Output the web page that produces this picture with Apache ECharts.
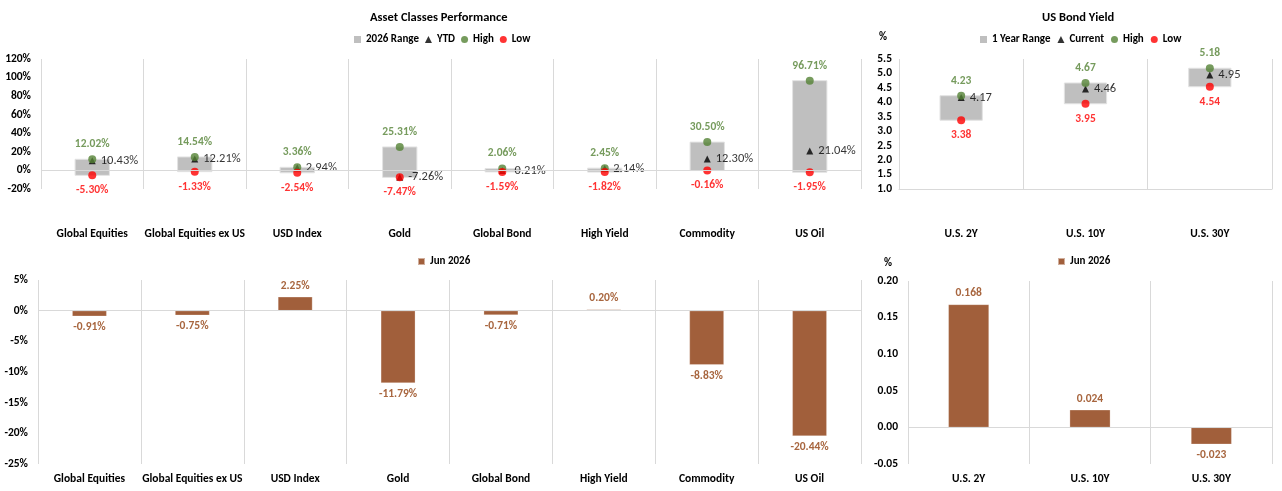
<!DOCTYPE html>
<html><head><meta charset="utf-8">
<script src="https://cdn.jsdelivr.net/npm/echarts@6/dist/echarts.min.js"></script>
<style>html,body{margin:0;padding:0;background:#fff}#c{width:1282px;height:491px}</style>
</head><body><div id="c"></div>
<script>
// ---- data ----
const assetCategories = ['Global Equities','Global Equities ex US','USD Index','Gold','Global Bond','High Yield','Commodity','US Oil'];
const assetHigh = [12.02, 14.54, 3.36, 25.31, 2.06, 2.45, 30.50, 96.71];
const assetLow = [-5.30, -1.33, -2.54, -7.47, -1.59, -1.82, -0.16, -1.95];
const assetYTD = [10.43, 12.21, 2.94, -7.26, -0.21, 2.14, 12.30, 21.04];
const assetMonth = [-0.91, -0.75, 2.25, -11.79, -0.71, 0.20, -8.83, -20.44];
const bondCategories = ['U.S. 2Y','U.S. 10Y','U.S. 30Y'];
const bondHigh = [4.23, 4.67, 5.18];
const bondLow = [3.38, 3.95, 4.54];
const bondCurrent = [4.17, 4.46, 4.95];
const bondMonth = [0.168, 0.024, -0.023];
const monthLabel = 'Jun 2026';

// ---- style ----
const FONT = "Carlito, Lato, 'Liberation Sans', sans-serif";
const GREEN = '#548235', RED = '#FF0000', GRAY = '#BFBFBF', BROWN = '#A15F3B', LINE = '#D9D9D9';

function rangeRenderer(frac) {
  return function (params, api) {
    const x = api.value(0);
    const lo = api.coord([x, api.value(1)]);
    const hi = api.coord([x, api.value(2)]);
    const w = api.size([1, 0])[0] * frac;
    return {
      type: 'rect',
      shape: { x: lo[0] - w / 2, y: hi[1], width: w, height: lo[1] - hi[1] },
      style: { fill: GRAY, stroke: '#E3E3E3', lineWidth: 1 }
    };
  };
}
function xAx(gi, data, margin, bottomLine) {
  return {
    type: 'category', gridIndex: gi, data: data,
    axisTick: { show: false },
    axisLine: { show: !!bottomLine, onZero: false, lineStyle: { color: LINE } },
    splitLine: { show: true, interval: 0, lineStyle: { color: LINE, width: 1 } },
    axisLabel: { interval: 0, margin: margin, fontFamily: FONT, fontWeight: 'bold', fontSize: 11.5, color: '#000' }
  };
}
function yAx(gi, min, max, interval, fmt, margin) {
  return {
    type: 'value', gridIndex: gi, min: min, max: max, interval: interval,
    splitLine: { show: false }, axisLine: { show: false }, axisTick: { show: false },
    axisLabel: { formatter: fmt, margin: margin, fontFamily: FONT, fontWeight: 'bold', fontSize: 11.5, color: '#000' }
  };
}
const zeroLine = { silent: true, symbol: 'none', label: { show: false }, lineStyle: { color: LINE, type: 'solid', width: 1 }, data: [{ yAxis: 0 }] };
function pointSeries(name, gi, data, symbol, size, color, pos, labelColor, bold, fmt) {
  return {
    type: 'scatter', name: name, xAxisIndex: gi, yAxisIndex: gi, data: data,
    symbol: symbol, symbolSize: size, itemStyle: { color: color },
    label: { show: true, position: pos, distance: 5, color: labelColor, fontFamily: FONT, fontSize: bold ? 11.5 : 12.5,
      fontWeight: bold ? 'bold' : 'normal', formatter: p => fmt(p.value) }
  };
}
function barSeries(gi, data, fmt) {
  return {
    type: 'bar', name: monthLabel, xAxisIndex: gi, yAxisIndex: gi, barWidth: '33.5%',
    itemStyle: { color: BROWN, borderColor: 'rgba(255,255,255,0.5)', borderWidth: 0.5 },
    data: data.map(v => ({ value: v, label: { position: v >= 0 ? 'top' : 'bottom' } })),
    label: { show: true, distance: 5, color: '#A8663F', fontFamily: FONT, fontWeight: 'bold', fontSize: 11.5,
      formatter: p => fmt(p.value) },
    markLine: zeroLine
  };
}
const pct2 = v => v.toFixed(2) + '%';
const num2 = v => v.toFixed(2);
const legendText = { fontFamily: FONT, fontWeight: 'bold', fontSize: 11, color: '#000' };

const option = {
  animation: false,
  backgroundColor: '#fff',
  textStyle: { fontFamily: FONT },
  title: [
    { text: 'Asset Classes Performance', left: 365, top: 6, textStyle: { fontFamily: FONT, fontSize: 12.5, fontWeight: 'bold', color: '#000' } },
    { text: 'US Bond Yield', left: 1037, top: 6, textStyle: { fontFamily: FONT, fontSize: 12.5, fontWeight: 'bold', color: '#000' } },
    { text: '%', left: 874, top: 27, textStyle: { fontFamily: FONT, fontSize: 11, fontWeight: 'bold', color: '#000' } },
    { text: '%', left: 879, top: 253, textStyle: { fontFamily: FONT, fontSize: 11, fontWeight: 'bold', color: '#000' } }
  ],
  legend: [
    { left: 349, top: 29, itemWidth: 7, itemHeight: 7, itemGap: 6, textStyle: legendText, selectedMode: false,
      data: [{ name: '2026 Range', icon: 'rect' }, { name: 'YTD', icon: 'triangle' }, { name: 'High', icon: 'circle' }, { name: 'Low', icon: 'circle' }] },
    { left: 975, top: 29, itemWidth: 7, itemHeight: 7, itemGap: 7, textStyle: legendText, selectedMode: false,
      data: [{ name: '1 Year Range', icon: 'rect' }, { name: 'Current', icon: 'triangle' }, { name: 'High', icon: 'circle' }, { name: 'Low', icon: 'circle' }] },
    { left: 412, top: 251, itemWidth: 7, itemHeight: 7, textStyle: legendText, selectedMode: false,
      data: [{ name: monthLabel, icon: 'rect' }] },
    { left: 1052, top: 251, itemWidth: 7, itemHeight: 7, textStyle: legendText, selectedMode: false,
      data: [{ name: monthLabel, icon: 'rect' }] }
  ],
  grid: [
    { left: 41, top: 59, width: 820, height: 130, containLabel: false, outerBoundsMode: 'none' },
    { left: 899, top: 59, width: 373, height: 130, containLabel: false, outerBoundsMode: 'none' },
    { left: 38, top: 280, width: 823, height: 184, containLabel: false, outerBoundsMode: 'none' },
    { left: 908, top: 281, width: 364, height: 183, containLabel: false, outerBoundsMode: 'none' }
  ],
  xAxis: [
    xAx(0, assetCategories, 39, false),
    xAx(1, bondCategories, 39, true),
    xAx(2, assetCategories, 9, false),
    xAx(3, bondCategories, 9, false)
  ],
  yAxis: [
    yAx(0, -20, 120, 20, v => v + '%', 10),
    yAx(1, 1.0, 5.5, 0.5, v => v.toFixed(1), 7),
    yAx(2, -25, 5, 5, v => v + '%', 10),
    yAx(3, -0.05, 0.20, 0.05, v => v.toFixed(2), 10)
  ],
  series: [
    { type: 'custom', name: '2026 Range', xAxisIndex: 0, yAxisIndex: 0, renderItem: rangeRenderer(0.335),
      itemStyle: { color: GRAY }, encode: { x: 0, y: [1, 2] },
      data: assetCategories.map((c, i) => [i, assetLow[i], assetHigh[i]]), markLine: zeroLine },
    pointSeries('YTD', 0, assetYTD, 'triangle', 7, '#000', 'right', '#000', false, pct2),
    pointSeries('High', 0, assetHigh, 'circle', 8, GREEN, 'top', GREEN, true, pct2),
    pointSeries('Low', 0, assetLow, 'circle', 8, RED, 'bottom', RED, true, pct2),
    { type: 'custom', name: '1 Year Range', xAxisIndex: 1, yAxisIndex: 1, renderItem: rangeRenderer(0.34),
      itemStyle: { color: GRAY }, encode: { x: 0, y: [1, 2] },
      data: bondCategories.map((c, i) => [i, bondLow[i], bondHigh[i]]) },
    pointSeries('Current', 1, bondCurrent, 'triangle', 7, '#000', 'right', '#000', false, num2),
    pointSeries('High', 1, bondHigh, 'circle', 8, GREEN, 'top', GREEN, true, num2),
    pointSeries('Low', 1, bondLow, 'circle', 8, RED, 'bottom', RED, true, num2),
    barSeries(2, assetMonth, pct2),
    barSeries(3, bondMonth, v => v.toFixed(3))
  ]
};
const chart = echarts.init(document.getElementById('c'), null, { renderer: 'canvas' });
chart.setOption(option);
</script>
</body></html>
